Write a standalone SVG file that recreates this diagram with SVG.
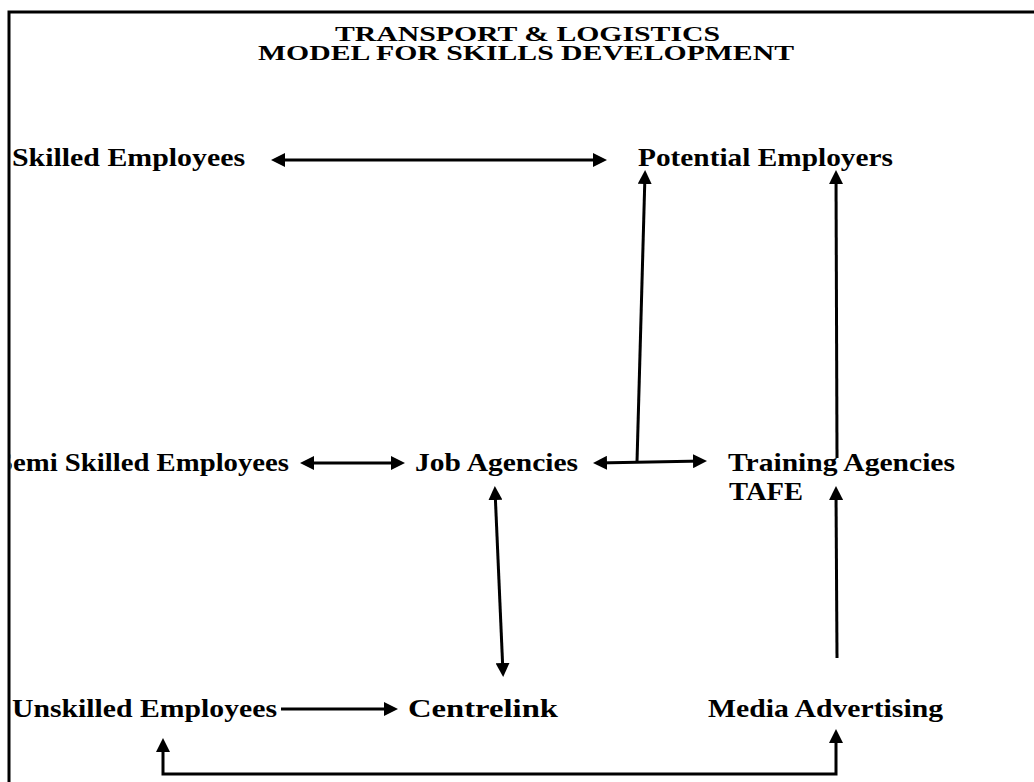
<svg xmlns="http://www.w3.org/2000/svg" width="1034" height="782" viewBox="0 0 1034 782">
<style>
text{font-family:"Liberation Serif","Times New Roman",serif;font-weight:bold;fill:#000;}
.t{font-size:20px;}
.n{font-size:25px;}
.c{fill:none;stroke:#000;stroke-width:3;}
</style>
<defs>
<marker id="ah" viewBox="0 0 14 14" refX="10" refY="7" markerWidth="14" markerHeight="14" markerUnits="userSpaceOnUse" orient="auto-start-reverse">
<path d="M0,0 L14,7 L0,14 z" fill="#000"/>
</marker>
<clipPath id="frameClip"><rect x="10.5" y="0" width="1030" height="782"/></clipPath>
</defs>
<rect x="0" y="0" width="1034" height="782" fill="#fff"/>
<path d="M9,782 L9,12 L1034,12" fill="none" stroke="#000" stroke-width="3"/>
<g id="title">
<text class="t" x="335" y="41" textLength="385" lengthAdjust="spacingAndGlyphs">TRANSPORT &amp; LOGISTICS</text>
<text class="t" x="258" y="60" textLength="536" lengthAdjust="spacingAndGlyphs">MODEL FOR SKILLS DEVELOPMENT</text>
</g>
<g id="connectors">
<line class="c" x1="275" y1="160" x2="603" y2="160" marker-start="url(#ah)" marker-end="url(#ah)"/>
<line class="c" x1="304" y1="463" x2="401" y2="463" marker-start="url(#ah)" marker-end="url(#ah)"/>
<line class="c" x1="597" y1="463" x2="703" y2="461" marker-start="url(#ah)" marker-end="url(#ah)"/>
<line class="c" x1="637" y1="462" x2="645" y2="174" marker-end="url(#ah)"/>
<line class="c" x1="837" y1="458" x2="836" y2="174" marker-end="url(#ah)"/>
<line class="c" x1="495" y1="490" x2="503" y2="673" marker-start="url(#ah)" marker-end="url(#ah)"/>
<line class="c" x1="281" y1="709" x2="394" y2="709" marker-end="url(#ah)"/>
<line class="c" x1="837" y1="658" x2="836" y2="490" marker-end="url(#ah)"/>
<path class="c" d="M163,742 L163,774 L836,774 L836,733" stroke-width="2.5" marker-start="url(#ah)" marker-end="url(#ah)"/>
</g>
<g id="skilled"><text class="n" x="12" y="166" textLength="233" lengthAdjust="spacingAndGlyphs">Skilled Employees</text></g>
<g id="potential"><text class="n" x="638" y="166" textLength="255" lengthAdjust="spacingAndGlyphs">Potential Employers</text></g>
<g id="semi" clip-path="url(#frameClip)"><text class="n" x="-3" y="471" textLength="292" lengthAdjust="spacingAndGlyphs">Semi Skilled Employees</text></g>
<g id="job"><text class="n" x="415" y="471" textLength="163" lengthAdjust="spacingAndGlyphs">Job Agencies</text></g>
<g id="training">
<text class="n" x="728" y="471" textLength="227" lengthAdjust="spacingAndGlyphs">Training Agencies</text>
<text class="n" x="729" y="500" textLength="74" lengthAdjust="spacingAndGlyphs">TAFE</text>
</g>
<g id="unskilled"><text class="n" x="12" y="717" textLength="265" lengthAdjust="spacingAndGlyphs">Unskilled Employees</text></g>
<g id="centrelink"><text class="n" x="408" y="717" textLength="150" lengthAdjust="spacingAndGlyphs">Centrelink</text></g>
<g id="media"><text class="n" x="708" y="717" textLength="235" lengthAdjust="spacingAndGlyphs">Media Advertising</text></g>
</svg>
